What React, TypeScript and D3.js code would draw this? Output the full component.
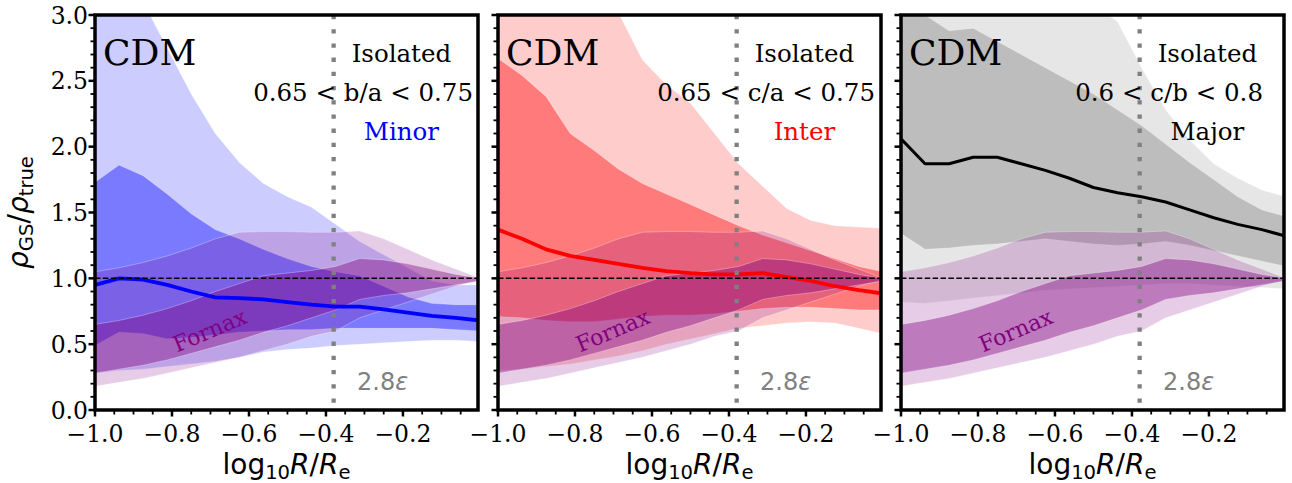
import * as d3 from 'd3'

// sampled radii, log10 R/Re
const radius = [-1.0, -0.9375, -0.875, -0.8125, -0.75, -0.6875, -0.625, -0.5625, -0.5, -0.4375, -0.375, -0.3125, -0.25, -0.1875, -0.125, -0.0625, 0.0]

// minor axis projection (blue)
const minorMedian = [0.95, 1.0, 0.99, 0.95, 0.9, 0.855, 0.85, 0.84, 0.82, 0.8, 0.785, 0.785, 0.765, 0.74, 0.715, 0.7, 0.68]
const minorInnerHi = [1.73, 1.86, 1.78, 1.64, 1.49, 1.37, 1.3, 1.22, 1.15, 1.09, 1.05, 1.02, 0.94, 0.86, 0.81, 0.8, 0.8]
const minorInnerLo = [0.49, 0.59, 0.58, 0.54, 0.55, 0.57, 0.59, 0.6, 0.61, 0.61, 0.62, 0.62, 0.62, 0.62, 0.62, 0.61, 0.6]
const minorOuterHi = [3.6, 3.4, 3.1, 2.75, 2.4, 2.1, 1.88, 1.72, 1.62, 1.54, 1.41, 1.28, 1.18, 1.08, 0.98, 0.95, 0.95]
const minorOuterLo = [0.28, 0.3, 0.31, 0.33, 0.35, 0.37, 0.4, 0.44, 0.46, 0.47, 0.49, 0.5, 0.51, 0.52, 0.53, 0.53, 0.52]

// intermediate axis projection (red)
const interMedian = [1.37, 1.3, 1.22, 1.17, 1.14, 1.11, 1.08, 1.055, 1.04, 1.03, 1.03, 1.04, 1.01, 0.98, 0.94, 0.91, 0.885]
const interInnerHi = [2.67, 2.54, 2.38, 2.1, 1.97, 1.83, 1.72, 1.64, 1.56, 1.48, 1.4, 1.33, 1.27, 1.21, 1.15, 1.09, 1.05]
const interInnerLo = [0.71, 0.7, 0.68, 0.67, 0.67, 0.69, 0.71, 0.72, 0.72, 0.73, 0.75, 0.77, 0.78, 0.78, 0.77, 0.76, 0.76]
const interOuterHi = [4.0, 3.8, 3.6, 3.4, 3.2, 3.02, 2.66, 2.47, 2.33, 2.1, 1.87, 1.7, 1.53, 1.44, 1.4, 1.39, 1.38]
const interOuterLo = [0.3, 0.31, 0.33, 0.35, 0.38, 0.41, 0.45, 0.5, 0.54, 0.58, 0.62, 0.64, 0.66, 0.67, 0.66, 0.62, 0.58]

// major axis projection (grey)
const majorMedian = [2.06, 1.87, 1.87, 1.92, 1.92, 1.87, 1.82, 1.76, 1.69, 1.65, 1.62, 1.58, 1.52, 1.46, 1.41, 1.37, 1.32]
const majorInnerHi = [3.1, 3.0, 2.88, 2.9, 2.8, 2.7, 2.6, 2.5, 2.4, 2.28, 2.16, 2.02, 1.88, 1.75, 1.62, 1.52, 1.47]
const majorInnerLo = [1.34, 1.22, 1.23, 1.25, 1.26, 1.28, 1.3, 1.28, 1.26, 1.25, 1.26, 1.28, 1.25, 1.21, 1.17, 1.13, 1.09]
const majorOuterHi = [3.6, 3.6, 3.5, 3.5, 3.4, 3.3, 3.2, 3.1, 3.08, 2.95, 2.6, 2.28, 2.05, 1.87, 1.76, 1.67, 1.62]
const majorOuterLo = [0.82, 0.81, 0.83, 0.85, 0.87, 0.89, 0.91, 0.92, 0.93, 0.94, 0.95, 0.96, 0.96, 0.95, 0.94, 0.93, 0.92]

// Fornax bands, same in every panel
const fornax95Hi = [1.05, 1.08, 1.12, 1.17, 1.23, 1.3, 1.35, 1.355, 1.355, 1.35, 1.35, 1.36, 1.3, 1.22, 1.14, 1.07, 1.0]
const fornax95Lo = [0.18, 0.21, 0.24, 0.28, 0.32, 0.36, 0.4, 0.45, 0.5, 0.56, 0.6, 0.7, 0.76, 0.82, 0.88, 0.94, 0.99]
const fornax68Hi = [0.65, 0.68, 0.72, 0.77, 0.83, 0.9, 0.96, 1.02, 1.04, 1.06, 1.09, 1.15, 1.14, 1.11, 1.07, 1.03, 1.0]
const fornax68Lo = [0.28, 0.31, 0.34, 0.38, 0.43, 0.48, 0.53, 0.59, 0.64, 0.7, 0.76, 0.84, 0.87, 0.89, 0.92, 0.95, 0.98]

const xTicks = [-1.0, -0.8, -0.6, -0.4, -0.2]
const yTicks = [0.0, 0.5, 1.0, 1.5, 2.0, 2.5, 3.0]
const softening = -0.38 // 2.8 epsilon

const panels = [
  { id: 'minor', color: '#0000ff', lw: 3.8, median: minorMedian, innerHi: minorInnerHi, innerLo: minorInnerLo, outerHi: minorOuterHi, outerLo: minorOuterLo, cut: '0.65 < b/a < 0.75', name: 'Minor', nameColor: '#0000ff' },
  { id: 'inter', color: '#ff0000', lw: 3.8, median: interMedian, innerHi: interInnerHi, innerLo: interInnerLo, outerHi: interOuterHi, outerLo: interOuterLo, cut: '0.65 < c/a < 0.75', name: 'Inter', nameColor: '#ff0000' },
  { id: 'major', color: '#808080', lineColor: '#000000', lw: 3, median: majorMedian, innerHi: majorInnerHi, innerLo: majorInnerLo, outerHi: majorOuterHi, outerLo: majorOuterLo, cut: '0.6 < c/b < 0.8', name: 'Major', nameColor: '#000000' },
]

const W = 383
const lefts = [95, 498, 901]
const top = 15
const bottom = 410
const serif = '"DejaVu Serif", serif'
const sans = '"DejaVu Sans", sans-serif'
const purple = '#800080'
const fmt = (v: number) => d3.format('.1f')(v).replace('-', '\u2212')

function Panel({ p, left, first }: { p: any; left: number; first: boolean }) {
  const x = d3.scaleLinear().domain([-1, -0.005]).range([left, left + W])
  const y = d3.scaleLinear().domain([0, 3]).range([bottom, top])
  const band = (lo: number[], hi: number[]) =>
    d3.area<number>().x((d) => x(d)).y0((_, i) => y(lo[i])).y1((_, i) => y(hi[i]))(radius) as string
  const line = d3.line<number>().x((d) => x(d)).y((_, i) => y(p.median[i]))(radius) as string
  const clip = 'clip-' + p.id
  const edge = { stroke: '#ffffff', strokeOpacity: 0.3, strokeWidth: 1 }
  const xMinor = x.ticks(20).filter((t) => !xTicks.some((m) => Math.abs(m - t) < 1e-6))
  const yMinor = y.ticks(30).filter((t) => !yTicks.some((m) => Math.abs(m - t) < 1e-6))
  const fx = left + 115
  return (
    <g>
      <defs>
        <clipPath id={clip}>
          <rect x={left} y={top} width={W} height={bottom - top} />
        </clipPath>
      </defs>
      <g clipPath={`url(#${clip})`}>
        <path d={band(p.outerLo, p.outerHi)} fill={p.color} fillOpacity={0.2} {...edge} />
        <path d={band(p.innerLo, p.innerHi)} fill={p.color} fillOpacity={0.4} {...edge} />
        <path d={band(fornax95Lo, fornax95Hi)} fill={purple} fillOpacity={0.2} {...edge} />
        <path d={band(fornax68Lo, fornax68Hi)} fill={purple} fillOpacity={0.4} {...edge} />
        <path d={line} fill="none" stroke={p.lineColor || p.color} strokeWidth={p.lw} strokeLinejoin="round" />
        <line x1={left} x2={left + W} y1={y(1)} y2={y(1)} stroke="#000" strokeWidth={1.5} strokeDasharray="5.5,2.4" />
        <line x1={x(softening)} x2={x(softening)} y1={top} y2={bottom} stroke="#808080" strokeWidth={4.3} strokeDasharray="4.3,9.9" />
      </g>
      <text x={left + 8} y={65} fontFamily={serif} fontSize={36}>CDM</text>
      <text x={left + 0.8 * W} y={62} fontFamily={serif} fontSize={24.5} textAnchor="middle">Isolated</text>
      <text x={left + 0.7 * W} y={101} fontFamily={serif} fontSize={24.5} textAnchor="middle">{p.cut}</text>
      <text x={left + 0.8 * W} y={140} fontFamily={serif} fontSize={24.5} textAnchor="middle" fill={p.nameColor}>{p.name}</text>
      <text transform={`translate(${fx},331) rotate(-23)`} fontFamily={serif} fontSize={22} textAnchor="middle" dy={7} fill={purple}>Fornax</text>
      <text x={left + 262} y={390} fontFamily={sans} fontSize={24} fill="#808080">
        2.8<tspan fontStyle="italic">ε</tspan>
      </text>
      <rect x={left} y={top} width={W} height={bottom - top} fill="none" stroke="#000" strokeWidth={3.5} />
      {xTicks.map((t) => (
        <g key={'xt' + t}>
          <line x1={x(t)} x2={x(t)} y1={bottom} y2={bottom + 6.5} stroke="#000" strokeWidth={2.5} />
          <text x={x(t)} y={442} fontFamily={serif} fontSize={23.5} textAnchor="middle">{fmt(t)}</text>
        </g>
      ))}
      {xMinor.map((t) => (
        <line key={'xm' + t} x1={x(t)} x2={x(t)} y1={bottom} y2={bottom + 4.5} stroke="#000" strokeWidth={1.8} />
      ))}
      {yTicks.map((t) => (
        <g key={'yt' + t}>
          <line x1={left - 6.5} x2={left} y1={y(t)} y2={y(t)} stroke="#000" strokeWidth={2.5} />
          {first && (
            <text x={88} y={y(t) + 8.6} fontFamily={serif} fontSize={23.5} textAnchor="end">{fmt(t)}</text>
          )}
        </g>
      ))}
      {yMinor.map((t) => (
        <line key={'ym' + t} x1={left - 4.5} x2={left} y1={y(t)} y2={y(t)} stroke="#000" strokeWidth={1.8} />
      ))}
      <text x={left + W / 2} y={474} fontFamily={sans} fontSize={28} textAnchor="middle">
        log<tspan fontSize={19.6} dy={5}>10</tspan>
        <tspan dy={-5} fontStyle="italic">R</tspan>/<tspan fontStyle="italic">R</tspan>
        <tspan fontSize={19.6} dy={5}>e</tspan>
      </text>
    </g>
  )
}

export default function App() {
  return (
    <svg width={1292} height={483} style={{ position: 'absolute', left: 0, top: 0, background: '#fff' }}>
      <rect width={1292} height={483} fill="#fff" />
      {panels.map((p, i) => (
        <Panel key={p.id} p={p} left={lefts[i]} first={i === 0} />
      ))}
      <text transform="translate(28,212.5) rotate(-90)" fontFamily={sans} fontSize={28} textAnchor="middle">
        <tspan fontStyle="italic">ρ</tspan>
        <tspan fontSize={19.6} dy={5}>GS</tspan>
        <tspan dy={-5}>/</tspan>
        <tspan fontStyle="italic">ρ</tspan>
        <tspan fontSize={19.6} dy={5}>true</tspan>
      </text>
    </svg>
  )
}
